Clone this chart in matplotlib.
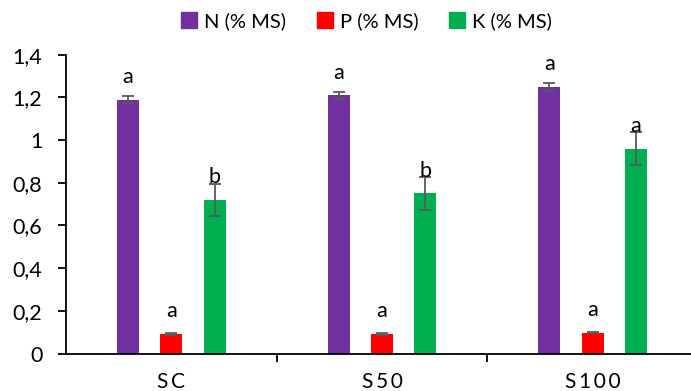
import numpy as np
import matplotlib
matplotlib.use("Agg")
from matplotlib import pyplot as plt
from matplotlib.lines import Line2D
from matplotlib.ticker import FuncFormatter

# colors
N_COL = "#7030A0"
P_COL = "#FF0000"
K_COL = "#00B050"
ERR = "#595959"

groups = ["SC", "S50", "S100"]
series = ["N (% MS)", "P (% MS)", "K (% MS)"]
n_vals = [1.19, 1.21, 1.25]
p_vals = [0.093, 0.092, 0.097]
k_vals = [0.72, 0.75, 0.96]
n_err = [0.018, 0.016, 0.018]
p_err = [0.004, 0.003, 0.003]
k_err = [0.074, 0.076, 0.077]
n_letters = ["a", "a", "a"]
p_letters = ["a", "a", "a"]
k_letters = ["b", "b", "a"]

plt.rcParams['font.family'] = ['Lato', 'DejaVu Sans']
font_size = 15.5


def comma_fmt(v, _):
    s = f"{v:.1f}".replace('.', ',')
    return s[:-2] if s.endswith(',0') else s


fig = plt.figure(figsize=(6.91, 3.91), dpi=100)
ax = fig.add_axes([66 / 691, 37.5 / 391, 632 / 691, 298.8 / 391])

x = np.arange(len(groups))
offset = 0.206
width = 0.104
data = [(n_vals, n_err, n_letters, N_COL), (p_vals, p_err, p_letters, P_COL), (k_vals, k_err, k_letters, K_COL)]
for i, (vals, errs, letters, col) in enumerate(data):
    pos = x + (i - 1) * offset
    ax.bar(pos, vals, width=width, color=col, zorder=2)
    ax.errorbar(pos, vals, yerr=errs, fmt='none', ecolor=ERR, elinewidth=1.3, capsize=4, capthick=1.3, zorder=3)
    for px, v, lt in zip(pos, vals, letters):
        ax.annotate(lt, xy=(px, v), xytext=(0, 12), textcoords='offset points',
                    ha='center', va='baseline', fontsize=font_size)

ax.set_xlim(-0.5, 2.5)
ax.set_ylim(0, 1.4)
ax.set_yticks(np.arange(0, 1.41, 0.2))
ax.yaxis.set_major_formatter(FuncFormatter(comma_fmt))
ax.set_xticks(x)
ax.set_xticklabels(['\u2009'.join(g) for g in groups])
ax.set_xticks([0.5, 1.5], minor=True)
ax.tick_params(axis='x', which='major', length=0, pad=13, labelsize=font_size - 0.5)
ax.tick_params(axis='x', which='minor', length=6, width=1.3, direction='out')
ax.tick_params(axis='y', length=6, width=1.3, pad=11, labelsize=font_size)
for s in ['top', 'right']:
    ax.spines[s].set_visible(False)
ax.spines['left'].set_linewidth(1.3)
ax.spines['bottom'].set_linewidth(1.3)

handles = [Line2D([], [], marker='s', linestyle='none', markersize=11, color=c) for c in (N_COL, P_COL, K_COL)]
fig.legend(handles, series, loc='upper center', ncol=3, bbox_to_anchor=(0.528, 1.015), frameon=False,
           fontsize=font_size - 1, handletextpad=0.2, columnspacing=1.35, handlelength=1.1)

plt.savefig("out.png", dpi=100)
